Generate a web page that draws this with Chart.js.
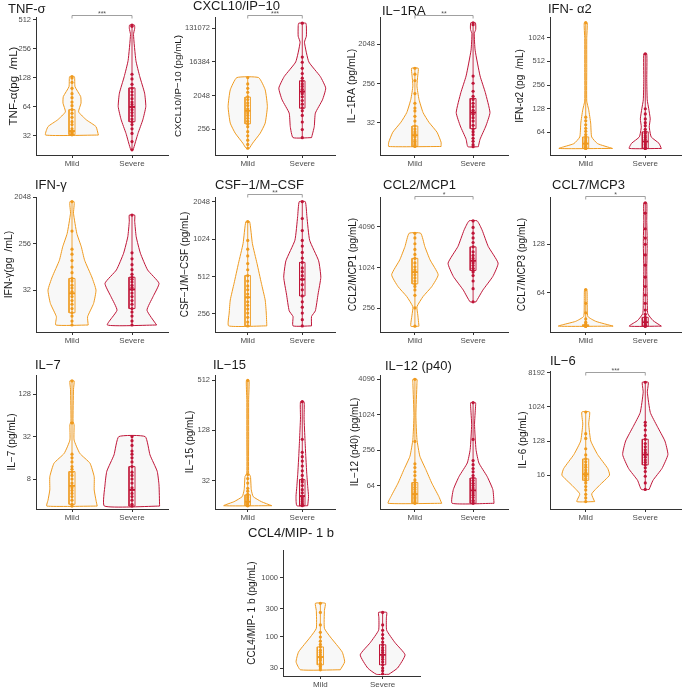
<!DOCTYPE html>
<html>
<head>
<meta charset="utf-8">
<script src="https://cdn.jsdelivr.net/npm/chart.js@4.4.1/dist/chart.umd.min.js"></script>
<style>
  body { margin: 0; background: #fff; width: 685px; height: 693px; position: relative; overflow: hidden; }
  canvas { position: absolute; }
</style>
</head>
<body>
<script>
const MILD = "#ef9a1e";
const SEVERE = "#bf1538";
const FONT = '"Liberation Sans", Arial, sans-serif';
const GROUPS = ["Mild", "Severe"];

// Each violin: levels (pg/mL, bottom to top) and half-widths (in category units).
// Boxes: [q1, median, q3]. Dots: individual values.

// TNF-α
const tnfTicks = [32, 64, 128, 256, 512];
const tnfRange = [20.3, 550];
const tnfMildLevels = [32.7, 40, 47, 57, 70, 82, 104, 132];
const tnfMildWidths = [0.44, 0.40, 0.24, 0.11, 0.15, 0.145, 0.05, 0.04];
const tnfMildBox = [33, 36, 60];
const tnfMildDots = [33, 33, 34, 35, 36, 36, 38, 42, 45, 50, 55, 60, 66, 72, 80, 88, 100, 115, 128, 132];
const tnfSevereLevels = [23, 34, 47, 64.5, 89, 132, 194, 362, 420, 454];
const tnfSevereWidths = [0.02, 0.1, 0.18, 0.23, 0.21, 0.13, 0.065, 0.025, 0.045, 0.04];
const tnfSevereBox = [45, 64, 101];
const tnfSevereDots = [23, 28, 34, 38, 42, 45, 48, 52, 56, 60, 64, 68, 72, 78, 85, 92, 100, 110, 125, 140, 440, 454];

// CXCL10/IP-10
const cxclTicks = [256, 2048, 16384, 131072];
const cxclRange = [52, 262144];
const cxclMildLevels = [79, 108, 201, 372, 1038, 2917, 6208];
const cxclMildWidths = [0.03, 0.09, 0.23, 0.32, 0.36, 0.32, 0.2];
const cxclMildBox = [357, 800, 1860];
const cxclMildDots = [79, 100, 130, 170, 220, 300, 360, 420, 500, 600, 700, 800, 900, 1100, 1300, 1600, 1900, 2500, 3200, 4200, 6200];
const cxclSevereLevels = [152, 300, 690, 1570, 3240, 6650, 16384, 55000, 80000, 150000, 179000];
const cxclSevereWidths = [0.17, 0.22, 0.24, 0.37, 0.43, 0.33, 0.12, 0.04, 0.075, 0.075, 0.065];
const cxclSevereBox = [940, 2620, 5080];
const cxclSevereDots = [152, 250, 400, 600, 800, 950, 1200, 1500, 1900, 2300, 2600, 3000, 3600, 4200, 5000, 6000, 8000, 11000, 16000, 22000, 179000];

// IL-1RA
const il1raTicks = [32, 256, 2048];
const il1raRange = [5.8, 8700];
const il1raMildLevels = [9.1, 11.4, 19.4, 33, 55, 111, 226, 400, 576];
const il1raMildWidths = [0.45, 0.45, 0.38, 0.24, 0.14, 0.07, 0.035, 0.05, 0.057];
const il1raMildBox = [9.1, 16.5, 27];
const il1raMildDots = [9.1, 9.5, 10, 11, 12, 13, 15, 16.5, 18, 20, 23, 27, 35, 45, 60, 70, 90, 150, 300, 420, 576];
const il1raSevereLevels = [9, 13.4, 27, 55, 159, 383, 1500, 3600, 4500, 6400];
const il1raSevereWidths = [0.09, 0.12, 0.22, 0.29, 0.21, 0.12, 0.035, 0.02, 0.045, 0.04];
const il1raSevereBox = [23.5, 55, 116];
const il1raSevereDots = [9, 10, 12, 14, 17, 20, 23, 28, 35, 42, 50, 55, 62, 75, 90, 110, 130, 170, 260, 380, 5800, 6400];

// IFN-α2
const ifna2Ticks = [64, 128, 256, 512, 1024];
const ifna2Range = [33, 1880];
const ifna2MildLevels = [40, 46, 56, 84, 124, 160, 400, 1000, 1590];
const ifna2MildWidths = [0.45, 0.2, 0.1, 0.083, 0.05, 0.017, 0.017, 0.017, 0.025];
const ifna2MildBox = [40, 46, 56];
const ifna2MildDots = [40, 40, 41, 42, 43, 45, 46, 48, 50, 53, 56, 60, 66, 72, 80, 90, 100, 1590];
const ifna2SevereLevels = [40, 46.5, 56, 75, 95, 128, 166, 300, 640];
const ifna2SevereWidths = [0.27, 0.23, 0.1, 0.067, 0.083, 0.058, 0.033, 0.025, 0.025];
const ifna2SevereBox = [40, 49, 65];
const ifna2SevereDots = [40, 40, 41, 43, 45, 47, 49, 52, 55, 58, 62, 65, 70, 78, 85, 95, 110, 128, 640];

// IFN-γ
const ifngTicks = [32, 256, 2048];
const ifngRange = [4.9, 2075];
const ifngMildLevels = [6.7, 9.7, 17.6, 32, 57.7, 122, 223, 407, 1000, 1400, 1680];
const ifngMildWidths = [0.27, 0.26, 0.36, 0.4, 0.33, 0.21, 0.155, 0.08, 0.025, 0.035, 0.035];
const ifngMildBox = [11.6, 27.7, 54];
const ifngMildDots = [6.7, 8, 10, 11.6, 14, 17, 20, 24, 27.7, 30, 35, 40, 48, 54, 70, 90, 120, 160, 200, 450, 1680];
const ifngSevereLevels = [6.7, 13, 23.8, 43.4, 79, 167, 350, 700, 923];
const ifngSevereWidths = [0.41, 0.25, 0.35, 0.45, 0.26, 0.14, 0.07, 0.045, 0.045];
const ifngSevereBox = [14, 33, 57];
const ifngSevereDots = [6.7, 8, 10, 12, 14, 17, 20, 24, 28, 33, 36, 40, 46, 52, 57, 65, 80, 100, 130, 170, 923];

// CSF-1/M-CSF
const csfTicks = [256, 512, 1024, 2048];
const csfRange = [183, 2235];
const csfMildLevels = [205, 260, 331, 452, 653, 945, 1415];
const csfMildWidths = [0.35, 0.34, 0.32, 0.25, 0.17, 0.085, 0.035];
const csfMildBox = [205, 348, 522];
const csfMildDots = [205, 220, 240, 260, 280, 300, 320, 348, 370, 400, 430, 470, 520, 580, 650, 750, 850, 1000, 1415];
const csfSevereLevels = [205, 244, 271, 370, 505, 685, 1003, 1552, 2048];
const csfSevereWidths = [0.17, 0.17, 0.24, 0.29, 0.34, 0.3, 0.135, 0.085, 0.056];
const csfSevereBox = [357, 485, 665];
const csfSevereDots = [205, 230, 260, 290, 320, 357, 400, 440, 485, 520, 560, 600, 665, 720, 800, 900, 1000, 1200, 1500, 2048];

// CCL2/MCP1
const ccl2Ticks = [256, 1024, 4096];
const ccl2Range = [115, 11250];
const ccl2MildLevels = [140, 204, 271, 383, 537, 803, 1333, 2100, 3280];
const ccl2MildWidths = [0.07, 0.05, 0.035, 0.14, 0.29, 0.4, 0.26, 0.17, 0.1];
const ccl2MildBox = [590, 880, 1400];
const ccl2MildDots = [140, 260, 400, 480, 540, 590, 650, 720, 800, 880, 950, 1050, 1200, 1400, 1600, 1900, 2300, 2800, 3280];
const ccl2SevereLevels = [320, 480, 760, 1190, 2100, 3660, 5000];
const ccl2SevereWidths = [0.05, 0.17, 0.34, 0.43, 0.26, 0.155, 0.07];
const ccl2SevereBox = [930, 1290, 2070];
const ccl2SevereDots = [320, 500, 650, 780, 880, 930, 1000, 1100, 1200, 1290, 1400, 1550, 1750, 2070, 2400, 2800, 3300, 4000, 5000];

// CCL7/MCP3
const ccl7Ticks = [64, 128];
const ccl7Range = [36.5, 252];
const ccl7MildLevels = [39.7, 42.5, 45.6, 55, 67];
const ccl7MildWidths = [0.46, 0.17, 0.035, 0.025, 0.02];
const ccl7MildBox = [39.7, 39.7, 40.5];
const ccl7MildDots = [39.7, 39.7, 39.7, 40, 40, 41, 42, 44, 48, 55, 67];
const ccl7SevereLevels = [39.7, 43, 47.5, 60, 90, 130, 180, 232];
const ccl7SevereWidths = [0.27, 0.13, 0.042, 0.033, 0.025, 0.033, 0.025, 0.025];
const ccl7SevereBox = [39.7, 42, 45];
const ccl7SevereDots = [39.7, 39.7, 40, 40.5, 41, 42, 43, 44, 45, 47, 50, 55, 62, 70, 80, 95, 110, 128, 140, 160, 200, 232];

// IL-7
const il7Ticks = [8, 32, 128];
const il7Range = [3.0, 240];
const il7MildLevels = [3.3, 4.0, 5.6, 8.6, 13.4, 18.5, 28.6, 47, 53, 150, 198];
const il7MildWidths = [0.42, 0.4, 0.37, 0.37, 0.3, 0.13, 0.035, 0.035, 0.017, 0.025, 0.035];
const il7MildBox = [3.5, 6.4, 10.2];
const il7MildDots = [3.3, 3.5, 4, 4.5, 5, 5.5, 6, 6.4, 7, 8, 9, 10, 11, 12, 14, 16, 18, 50, 198];
const il7SevereLevels = [3.3, 6.6, 10.3, 17.6, 32];
const il7SevereWidths = [0.46, 0.45, 0.42, 0.3, 0.22];
const il7SevereBox = [3.3, 5.6, 12];
const il7SevereDots = [3.3, 3.5, 4, 4.5, 5, 5.6, 6, 7, 8, 9, 10, 12, 14, 16, 18, 20, 24, 28, 32];

// IL-15
const il15Ticks = [32, 128, 512];
const il15Range = [14.7, 588];
const il15MildLevels = [16.1, 18, 20.7, 25, 36, 39.4, 100, 300, 506];
const il15MildWidths = [0.44, 0.25, 0.1, 0.065, 0.05, 0.017, 0.017, 0.017, 0.025];
const il15MildBox = [16.1, 18, 21.7];
const il15MildDots = [16.1, 16.1, 16.5, 17, 17.5, 18, 19, 20, 21, 22, 24, 26, 30, 34, 38, 506];
const il15SevereLevels = [16.1, 20.7, 27.3, 39.4, 62, 98, 180, 282];
const il15SevereWidths = [0.1, 0.115, 0.1, 0.082, 0.065, 0.05, 0.033, 0.033];
const il15SevereBox = [16.1, 21, 33];
const il15SevereDots = [16.1, 16.5, 17, 18, 19, 20, 21, 23, 25, 28, 31, 33, 37, 42, 48, 55, 62, 70, 100, 282];

// IL-12 (p40)
const il12Ticks = [64, 256, 1024, 4096];
const il12Range = [25.6, 4850];
const il12MildLevels = [32, 42, 70.5, 119, 202, 391, 1000, 3500, 4096];
const il12MildWidths = [0.46, 0.41, 0.29, 0.19, 0.085, 0.035, 0.017, 0.035, 0.035];
const il12MildBox = [32, 46, 72];
const il12MildDots = [32, 33, 35, 38, 40, 43, 46, 50, 55, 60, 66, 72, 80, 95, 110, 130, 150, 360, 4096];
const il12SevereLevels = [32, 54.6, 92, 155, 263, 700, 1400, 1640];
const il12SevereWidths = [0.36, 0.34, 0.24, 0.1, 0.05, 0.025, 0.042, 0.042];
const il12SevereBox = [32, 53, 86];
const il12SevereDots = [32, 34, 36, 40, 44, 48, 53, 58, 64, 70, 78, 86, 95, 110, 125, 145, 170, 390, 1640];

// IL-6
const il6Ticks = [16, 128, 1024, 8192];
const il6Range = [2.04, 9090];
const il6MildLevels = [3.2, 5.1, 8.6, 16, 24, 56, 128, 362, 750];
const il6MildWidths = [0.15, 0.1, 0.23, 0.4, 0.37, 0.2, 0.085, 0.05, 0.065];
const il6MildBox = [11.7, 17, 43];
const il6MildDots = [3.2, 4, 5, 6.5, 8, 10, 11.7, 13, 15, 16, 17, 19, 22, 26, 30, 36, 43, 55, 80, 150, 200, 750];
const il6SevereLevels = [6.7, 11.7, 24, 56, 128, 315, 724, 2520, 4580];
const il6SevereWidths = [0.065, 0.13, 0.28, 0.38, 0.33, 0.2, 0.085, 0.035, 0.05];
const il6SevereBox = [30, 56, 142];
const il6SevereDots = [6.7, 10, 15, 20, 25, 30, 35, 40, 48, 56, 64, 75, 90, 110, 142, 180, 250, 330, 400, 4580];

// CCL4/MIP-1b
const ccl4Ticks = [30, 100, 300, 1000];
const ccl4Range = [22, 2930];
const ccl4MildLevels = [28, 38, 56, 100, 140, 280, 370];
const ccl4MildWidths = [0.32, 0.39, 0.35, 0.16, 0.065, 0.065, 0.08];
const ccl4MildBox = [34, 46, 68];
const ccl4MildDots = [28, 30, 32, 34, 36, 40, 43, 46, 50, 55, 60, 68, 75, 85, 100, 120, 160, 260, 370];
const ccl4SevereLevels = [23.5, 30, 50, 80, 130, 210, 260];
const ccl4SevereWidths = [0.1, 0.24, 0.36, 0.2, 0.065, 0.06, 0.065];
const ccl4SevereBox = [34, 50, 74];
const ccl4SevereDots = [24, 27, 30, 34, 38, 42, 46, 50, 55, 60, 66, 74, 82, 95, 110, 130, 160, 260];

// Frames: [canvasX, canvasY, canvasW, canvasH, areaLeft, areaTop, areaRight, areaBottom, titleX, titleY, yTitleX, yTitleSize]
const frames = [
  [0, 0, 172, 172, 36, 17, 170, 155, 8, 9, 14, 11.5],
  [172, 0, 168, 172, 215, 17, 335, 155, 193, 6, 178, 9.8],
  [340, 0, 172, 172, 380, 17, 510, 155, 382, 11, 352, 10.5],
  [512, 0, 173, 172, 550, 17, 682, 155, 548, 9, 520, 10],
  [0, 172, 172, 173, 36, 197, 170, 332, 35, 185, 9, 10.5],
  [172, 172, 168, 173, 215, 197, 335, 332, 215, 185, 185, 10],
  [340, 172, 172, 173, 380, 197, 510, 332, 383, 185, 353, 10],
  [512, 172, 173, 173, 550, 197, 682, 332, 552, 185, 522, 10],
  [0, 345, 172, 177, 36, 375, 170, 509, 35, 365, 12, 10],
  [172, 345, 168, 177, 215, 375, 335, 509, 213, 365, 190, 10],
  [340, 345, 172, 177, 380, 375, 510, 509, 385, 366, 355, 10],
  [512, 345, 173, 177, 550, 371, 682, 509, 550, 361, 523, 10],
  [230, 522, 200, 171, 283, 550, 420, 676, 248, 533, 252, 10]
];

const panels = [
  { title: "TNF-σ", yTitle: "TNF-α(pg  /mL)", ticks: tnfTicks, range: tnfRange,
    mild: [tnfMildLevels, tnfMildWidths, tnfMildBox, tnfMildDots],
    severe: [tnfSevereLevels, tnfSevereWidths, tnfSevereBox, tnfSevereDots], sig: "***", sigAt: 577 },
  { title: "CXCL10/IP−10", yTitle: "CXCL10/IP−10 (pg/mL)", ticks: cxclTicks, range: cxclRange,
    mild: [cxclMildLevels, cxclMildWidths, cxclMildBox, cxclMildDots],
    severe: [cxclSevereLevels, cxclSevereWidths, cxclSevereBox, cxclSevereDots], sig: "***", sigAt: 297000 },
  { title: "IL−1RA", yTitle: "IL−1RA (pg/mL)", ticks: il1raTicks, range: il1raRange,
    mild: [il1raMildLevels, il1raMildWidths, il1raMildBox, il1raMildDots],
    severe: [il1raSevereLevels, il1raSevereWidths, il1raSevereBox, il1raSevereDots], sig: "**", sigAt: 9700 },
  { title: "IFN- α2", yTitle: "IFN-α2 (pg  /mL)", ticks: ifna2Ticks, range: ifna2Range,
    mild: [ifna2MildLevels, ifna2MildWidths, ifna2MildBox, ifna2MildDots],
    severe: [ifna2SevereLevels, ifna2SevereWidths, ifna2SevereBox, ifna2SevereDots] },
  { title: "IFN-γ", yTitle: "IFN-γ(pg  /mL)", ticks: ifngTicks, range: ifngRange,
    mild: [ifngMildLevels, ifngMildWidths, ifngMildBox, ifngMildDots],
    severe: [ifngSevereLevels, ifngSevereWidths, ifngSevereBox, ifngSevereDots] },
  { title: "CSF−1/M−CSF", yTitle: "CSF−1/M−CSF (pg/mL)", ticks: csfTicks, range: csfRange,
    mild: [csfMildLevels, csfMildWidths, csfMildBox, csfMildDots],
    severe: [csfSevereLevels, csfSevereWidths, csfSevereBox, csfSevereDots], sig: "**", sigAt: 2360 },
  { title: "CCL2/MCP1", yTitle: "CCL2/MCP1 (pg/mL)", ticks: ccl2Ticks, range: ccl2Range,
    mild: [ccl2MildLevels, ccl2MildWidths, ccl2MildBox, ccl2MildDots],
    severe: [ccl2SevereLevels, ccl2SevereWidths, ccl2SevereBox, ccl2SevereDots], sig: "*", sigAt: 11750 },
  { title: "CCL7/MCP3", yTitle: "CCL7/MCP3 (pg/mL)", ticks: ccl7Ticks, range: ccl7Range,
    mild: [ccl7MildLevels, ccl7MildWidths, ccl7MildBox, ccl7MildDots],
    severe: [ccl7SevereLevels, ccl7SevereWidths, ccl7SevereBox, ccl7SevereDots], sig: "*", sigAt: 255 },
  { title: "IL−7", yTitle: "IL−7 (pg/mL)", ticks: il7Ticks, range: il7Range,
    mild: [il7MildLevels, il7MildWidths, il7MildBox, il7MildDots],
    severe: [il7SevereLevels, il7SevereWidths, il7SevereBox, il7SevereDots] },
  { title: "IL−15", yTitle: "IL−15 (pg/mL)", ticks: il15Ticks, range: il15Range,
    mild: [il15MildLevels, il15MildWidths, il15MildBox, il15MildDots],
    severe: [il15SevereLevels, il15SevereWidths, il15SevereBox, il15SevereDots] },
  { title: "IL−12 (p40)", yTitle: "IL−12 (p40) (pg/mL)", ticks: il12Ticks, range: il12Range,
    mild: [il12MildLevels, il12MildWidths, il12MildBox, il12MildDots],
    severe: [il12SevereLevels, il12SevereWidths, il12SevereBox, il12SevereDots] },
  { title: "IL−6", yTitle: "IL−6 (pg/mL)", ticks: il6Ticks, range: il6Range,
    mild: [il6MildLevels, il6MildWidths, il6MildBox, il6MildDots],
    severe: [il6SevereLevels, il6SevereWidths, il6SevereBox, il6SevereDots], sig: "***", sigAt: 8700 },
  { title: "CCL4/MIP- 1 b", yTitle: "CCL4/MIP- 1 b (pg/mL)", ticks: ccl4Ticks, range: ccl4Range,
    mild: [ccl4MildLevels, ccl4MildWidths, ccl4MildBox, ccl4MildDots],
    severe: [ccl4SevereLevels, ccl4SevereWidths, ccl4SevereBox, ccl4SevereDots] }
];

const BOX_HALF = 0.05;

function violinOutline(c, levels, widths) {
  const right = levels.map((v, i) => ({ x: c + widths[i], y: v }));
  const left = levels.map((v, i) => ({ x: c - widths[i], y: v })).reverse();
  return right.concat(left, [right[0]]);
}

function boxOutline(c, box) {
  const [q1, , q3] = box;
  return [
    { x: c - BOX_HALF, y: q1 }, { x: c + BOX_HALF, y: q1 },
    { x: c + BOX_HALF, y: q3 }, { x: c - BOX_HALF, y: q3 },
    { x: c - BOX_HALF, y: q1 }
  ];
}

const panelText = {
  id: "panelText",
  afterDraw(chart, args, opts) {
    const { ctx, chartArea, scales } = chart;
    ctx.save();
    ctx.fillStyle = "#1a1a1a";
    ctx.font = `13px ${FONT}`;
    ctx.textAlign = "left";
    ctx.textBaseline = "middle";
    ctx.fillText(opts.title, opts.titleX, opts.titleY);

    ctx.save();
    ctx.translate(opts.yTitleX, (chartArea.top + chartArea.bottom) / 2);
    ctx.rotate(-Math.PI / 2);
    ctx.textAlign = "center";
    ctx.font = `${opts.yTitleSize}px ${FONT}`;
    ctx.fillText(opts.yTitle, 0, 0);
    ctx.restore();

    if (opts.sig) {
      const y = Math.round(scales.y.getPixelForValue(opts.sigAt)) + 0.5;
      const x1 = scales.x.getPixelForValue(1);
      const x2 = scales.x.getPixelForValue(2);
      ctx.strokeStyle = "#888";
      ctx.lineWidth = 0.8;
      ctx.beginPath();
      ctx.moveTo(x1, y + 3);
      ctx.lineTo(x1, y);
      ctx.lineTo(x2, y);
      ctx.lineTo(x2, y + 3);
      ctx.stroke();
      ctx.fillStyle = "#555";
      ctx.font = `7px ${FONT}`;
      ctx.textAlign = "center";
      ctx.textBaseline = "middle";
      ctx.fillText(opts.sig, (x1 + x2) / 2, y - 1);
    }
    ctx.restore();
  }
};

function makeChart(p, frame) {
  const [cx, cy, cw, ch, left, top, right, bottom, titleX, titleY, yTitleX, yTitleSize] = frame;
  const canvas = document.createElement("canvas");
  canvas.width = cw;
  canvas.height = ch;
  canvas.style.left = cx + "px";
  canvas.style.top = cy + "px";
  document.body.appendChild(canvas);

  const front = [];
  const back = [];
  [[1, p.mild, MILD], [2, p.severe, SEVERE]].forEach(([c, g, color]) => {
    const [levels, widths, box, dots] = g;
    front.push({
      data: dots.map((v) => ({ x: c, y: v })),
      showLine: false, pointRadius: 1.6, pointBorderWidth: 0,
      pointBackgroundColor: color
    });
    front.push({
      data: [{ x: c - BOX_HALF, y: box[1] }, { x: c + BOX_HALF, y: box[1] }],
      borderColor: color, borderWidth: 1.8, pointRadius: 0
    });
    front.push({
      data: boxOutline(c, box),
      borderColor: color, borderWidth: 0.9, pointRadius: 0
    });
    front.push({
      data: [{ x: c, y: levels[0] }, { x: c, y: levels[levels.length - 1] }],
      borderColor: color, borderWidth: 0.9, pointRadius: 0
    });
    back.push({
      data: violinOutline(c, levels, widths),
      borderColor: color, borderWidth: 1, pointRadius: 0,
      backgroundColor: "rgba(235,235,235,0.35)", fill: "shape", tension: 0.15
    });
  });

  const tickFont = { family: FONT, size: 7.5 };
  new Chart(canvas, {
    type: "line",
    data: { datasets: front.concat(back) },
    options: {
      responsive: false,
      animation: false,
      devicePixelRatio: 1,
      events: [],
      layout: { padding: { left: 0, top: top - cy, right: cx + cw - right, bottom: 0 } },
      plugins: {
        legend: { display: false },
        tooltip: { enabled: false },
        panelText: { title: p.title, yTitle: p.yTitle, titleX: titleX - cx, titleY: titleY - cy,
                     yTitleX: yTitleX - cx, yTitleSize, sig: p.sig, sigAt: p.sigAt }
      },
      scales: {
        x: {
          type: "linear", min: 0.4, max: 2.6,
          afterBuildTicks: (s) => { s.ticks = [{ value: 1 }, { value: 2 }]; },
          afterFit: (s) => { s.height = cy + ch - bottom; },
          ticks: { autoSkip: false, maxRotation: 0, padding: 1, color: "#4d4d4d",
                   font: { family: FONT, size: 8 }, callback: (v) => GROUPS[v - 1] },
          grid: { drawOnChartArea: false, tickLength: 3, color: "#333" },
          border: { color: "#333", width: 1 }
        },
        y: {
          type: "logarithmic", min: p.range[0], max: p.range[1],
          afterBuildTicks: (s) => { s.ticks = p.ticks.map((v) => ({ value: v })); },
          afterFit: (s) => { s.width = left - cx; },
          ticks: { autoSkip: false, padding: 2, color: "#4d4d4d", font: tickFont,
                   callback: (v) => String(v) },
          grid: { drawOnChartArea: false, tickLength: 3, color: "#333" },
          border: { color: "#333", width: 1 }
        }
      }
    },
    plugins: [panelText]
  });
}

panels.forEach((p, i) => makeChart(p, frames[i]));
</script>
</body>
</html>
